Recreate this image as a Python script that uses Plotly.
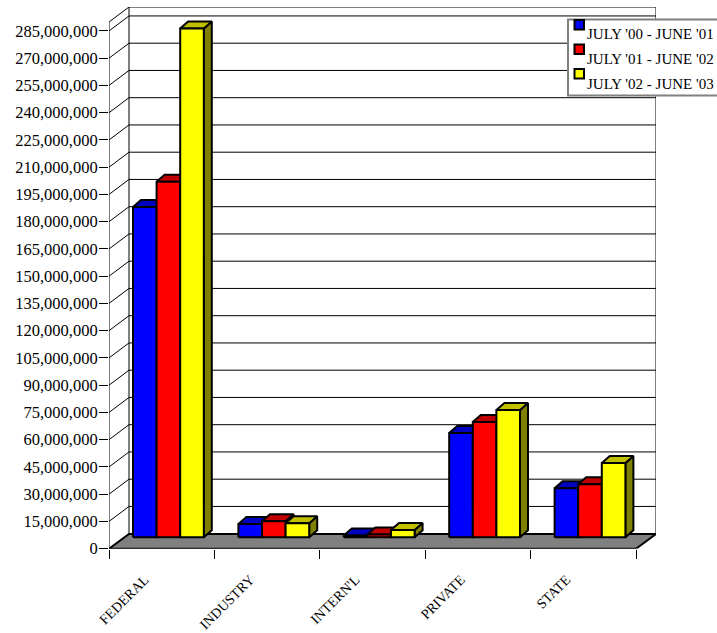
import plotly.graph_objects as go

categories = ["FEDERAL", "INDUSTRY", "INTERN'L", "PRIVATE", "STATE"]
series_names = ["JULY '00 - JUNE '01", "JULY '01 - JUNE '02", "JULY '02 - JUNE '03"]
values_00 = [181.8e6, 7.2e6, 1.0e6, 57.4e6, 27.0e6]
values_01 = [195.6e6, 8.8e6, 1.5e6, 63.4e6, 29.2e6]
values_02 = [280.0e6, 7.7e6, 3.9e6, 70.0e6, 40.8e6]
front_colors = ["#0000FF", "#FF0000", "#FFFF00"]
top_colors = ["#0000C0", "#C00000", "#C0C000"]
side_colors = ["#000080", "#800000", "#808000"]
y_ticks = list(range(0, 285000001, 15000000))

W, H = 717, 633
CAT_PX = 105.4
UNIT_PX = 27.25 / 15e6
X0 = 109
Y0 = 548.7
Y_TOP = 7
X_RIGHT = 656


def dxpx(p):
    return p / CAT_PX


def dypx(p):
    return p / UNIT_PX


x_min = -0.5
x_max = x_min + (X_RIGHT - X0) / CAT_PX
y_max = dypx(Y0 - Y_TOP)
wall_dx, wall_dy = dxpx(20), dypx(15)
axis_top = dypx(Y0 - 22)
floor_back = dypx(14.7)
bar_base = dypx(11.5)
bar_w = dxpx(23.6)
bar_shift = dxpx(6.7)
depth_x, depth_y = dxpx(8), dypx(7)

traces = []


def poly(xs, ys, fill, line="#000000", width=2):
    return go.Scatter(x=xs, y=ys, mode="lines", fill="toself", fillcolor=fill,
                      line=dict(color=line, width=width), hoverinfo="skip",
                      showlegend=False, cliponaxis=False)


def lines(xs, ys, width=1):
    return go.Scatter(x=xs, y=ys, mode="lines", line=dict(color="#000000", width=width),
                      hoverinfo="skip", showlegend=False, cliponaxis=False)


# back wall
wall_left = x_min + wall_dx
wall_right = x_max
traces.append(lines([wall_left, wall_left, wall_right, wall_right],
                    [floor_back, y_max, y_max, floor_back]))
# grid on the wall and side wall
gx, gy = [], []
for t in y_ticks[1:]:
    gx += [x_min, wall_left, wall_right, None]
    gy += [t, t + wall_dy, t + wall_dy, None]
gx += [x_min, wall_left, None]
gy += [axis_top, y_max, None]
traces.append(lines(gx, gy))
traces.append(lines([x_min, x_min], [0, axis_top]))
# floor
traces.append(poly([x_min, wall_left, wall_right, wall_right - wall_dx, x_min],
                   [0, floor_back, floor_back, 0, 0], "#808080"))

# bars: side, top, front for each series in turn
for s, vals in enumerate([values_00, values_01, values_02]):
    sx, sy, tx, ty, fx, fy = [], [], [], [], [], []
    for c, v in enumerate(vals):
        left = c + bar_shift + (s - 1.5) * bar_w
        right = left + bar_w
        top = bar_base + v
        sx += [right, right + depth_x, right + depth_x, right, right, None]
        sy += [bar_base, bar_base + depth_y, top + depth_y, top, bar_base, None]
        tx += [left, left + depth_x, right + depth_x, right, left, None]
        ty += [top, top + depth_y, top + depth_y, top, top, None]
        fx += [left, right, right, left, left, None]
        fy += [bar_base, bar_base, top, top, bar_base, None]
    traces.append(poly(sx, sy, side_colors[s]))
    traces.append(poly(tx, ty, top_colors[s]))
    traces.append(poly(fx, fy, front_colors[s]))
    traces[-1].name = series_names[s]

fig = go.Figure(traces)

font_family = "Liberation Serif"
shapes = [dict(type="rect", xref="paper", yref="paper",
               x0=568 / W, x1=1.02, y0=1 - 19.5 / H, y1=1 - 95.5 / H,
               fillcolor="#FFFFFF", line=dict(color="#808080", width=2), layer="above")]
annotations = []
for i, name in enumerate(series_names):
    top_px = 20 + i * 24.5
    shapes.append(dict(type="rect", xref="paper", yref="paper",
                       x0=574.5 / W, x1=584 / W, y0=1 - top_px / H, y1=1 - (top_px + 9.5) / H,
                       fillcolor=front_colors[i], line=dict(color="#000000", width=2), layer="above"))
    annotations.append(dict(text=name, xref="paper", yref="paper", x=585.5 / W,
                            y=1 - (33.5 + i * 25) / H, xanchor="left", yanchor="middle",
                            showarrow=False, borderpad=0,
                            font=dict(family=font_family, size=15, color="#000000")))

fig.update_layout(
    width=W, height=H, margin=dict(l=0, r=0, t=0, b=0, autoexpand=False),
    paper_bgcolor="#FFFFFF", plot_bgcolor="#FFFFFF", showlegend=False,
    shapes=shapes, annotations=annotations,
    xaxis=dict(domain=[X0 / W, X_RIGHT / W], range=[x_min, x_max], showgrid=False,
               zeroline=False, showline=False, tickmode="array",
               tickvals=list(range(len(categories))), ticktext=categories,
               ticks="", tickangle=-45, ticklabelstandoff=19, ticklabelshift=-17,
               tickfont=dict(family=font_family, size=14, color="#000000"),
               minor=dict(tickmode="array", tickvals=[c - 0.5 for c in range(len(categories) + 1)],
                          ticks="outside", ticklen=9, tickwidth=1, tickcolor="#000000")),
    yaxis=dict(domain=[(H - Y0) / H, (H - Y_TOP) / H], range=[0, y_max], showgrid=False,
               zeroline=False, showline=False, tickmode="array", tickvals=y_ticks,
               tickformat=",d", ticks="outside", ticklen=9, tickwidth=1, tickcolor="#000000",
               ticklabelstandoff=-2,
               tickfont=dict(family=font_family, size=16.5, color="#000000")),
)

fig.write_html("out.html", config=dict(displayModeBar=False),
               post_script="document.body.style.margin='0';")
